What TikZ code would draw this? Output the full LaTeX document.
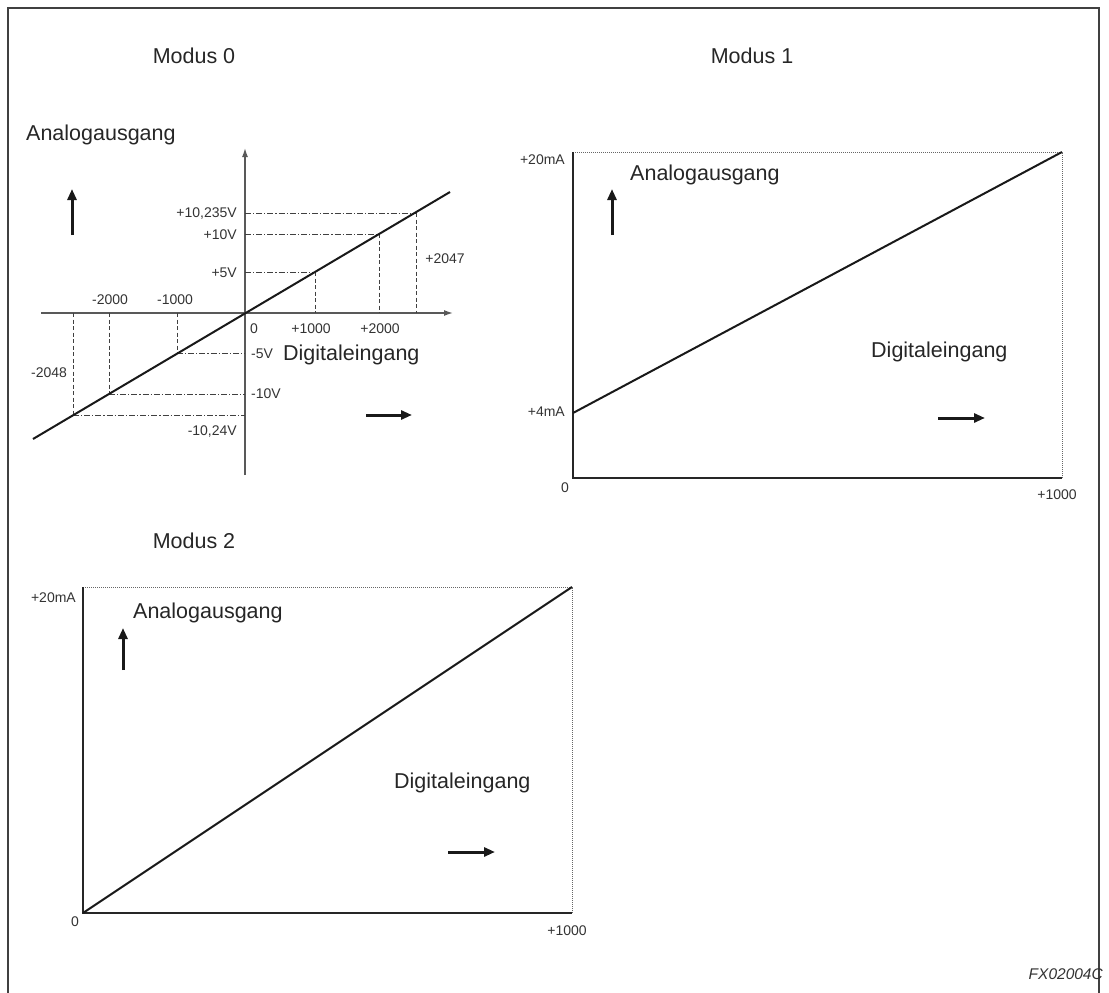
\documentclass[tikz,border=0pt]{standalone}
\usepackage{fontspec}
\setmainfont{Liberation Sans}
\usetikzlibrary{arrows.meta}
\begin{document}
\begin{tikzpicture}[x=1pt,y=-1pt,
  lbl/.style={inner sep=0pt, text=black!80, font=\fontsize{14}{16}\selectfont},
  big/.style={inner sep=0pt, text=black!85, font=\fontsize{21.5}{24}\selectfont},
  tag/.style={inner sep=0pt, text=black!80, font=\fontsize{15.5}{17}\selectfont\itshape},
  frame/.style={draw=black!75, line width=1.8pt},
  axisline/.style={draw=black!65, line width=1.4pt, -{Latex[length=9pt,width=6pt]}},
  curve/.style={draw=black!90, line width=2pt},
  dd/.style={draw=black!75, line width=0.8pt, dash pattern=on 6pt off 2pt on 1.2pt off 2pt},
  ds/.style={draw=black!75, line width=0.8pt, dash pattern=on 4pt off 2.5pt},
  boxline/.style={draw=black!85, line width=1.5pt},
  dotline/.style={draw=black!60, line width=0.6pt, dash pattern=on 1pt off 1pt},
  bigarrow/.style={draw=black!90, line width=3pt, -{Triangle[length=11pt,width=9pt]}}
]
\useasboundingbox (0,0) rectangle (1109,993);

% outer frame
\coordinate (f1) at (8,993);
\coordinate (f2) at (8,8);
\coordinate (f3) at (1099,8);
\coordinate (f4) at (1099,993);
\draw[frame] (f1) -- (f2) -- (f3) -- (f4);

% titles
\node[big, anchor=base] (m0) at (194,63) {Modus 0};
\node[big, anchor=base] (m1) at (752,63) {Modus 1};
\node[big, anchor=base] (m2) at (194,548) {Modus 2};

%%%%%%%%%%%%%%%% Modus 0
\coordinate (O) at (245,313);
\coordinate (xl) at (41,313);
\coordinate (xr) at (453,313);
\coordinate (yb) at (245,475);
\coordinate (yt) at (245,148);
\draw[axisline] (xl) -- (xr);
\draw[axisline] (yb) -- (yt);

% guide points on the characteristic
\coordinate (pA) at (416,213);
\coordinate (pB) at (379,234);
\coordinate (pC) at (315,272);
\coordinate (pD) at (177,353);
\coordinate (pE) at (109,394);
\coordinate (pF) at (73,415);
\draw[dd] (245,213) -- (pA); \draw[ds] (pA) -- (416,313);
\draw[dd] (245,234) -- (pB); \draw[ds] (pB) -- (379,313);
\draw[dd] (245,272) -- (pC); \draw[ds] (pC) -- (315,313);
\draw[ds] (177,313) -- (pD); \draw[dd] (pD) -- (245,353);
\draw[ds] (109,313) -- (pE); \draw[dd] (pE) -- (245,394);
\draw[ds] (73,313) -- (pF); \draw[dd] (pF) -- (245,415);

\coordinate (c0a) at (33,439);
\coordinate (c0b) at (450,192);
\draw[curve] (c0a) -- (c0b);

\node[lbl, anchor=base east] (l1) at (237,217) {+10,235V};
\node[lbl, anchor=base east] (l2) at (237,239) {+10V};
\node[lbl, anchor=base east] (l3) at (237,277) {+5V};
\node[lbl, anchor=base] (l4) at (110,304) {-2000};
\node[lbl, anchor=base] (l5) at (175,304) {-1000};
\node[lbl, anchor=base] (l6) at (254,333) {0};
\node[lbl, anchor=base] (l7) at (311,333) {+1000};
\node[lbl, anchor=base] (l8) at (380,333) {+2000};
\node[lbl, anchor=base] (l9) at (445,263) {+2047};
\node[lbl, anchor=base west] (l10) at (251,358) {-5V};
\node[lbl, anchor=base] (l11) at (49,377) {-2048};
\node[lbl, anchor=base west] (l12) at (251,398) {-10V};
\node[lbl, anchor=base east] (l13) at (237,435) {-10,24V};
\node[big, anchor=base west] (dig0) at (283,360) {Digitaleingang};
\node[big, anchor=base west] (ana0) at (26,140) {Analogausgang};

\coordinate (ua0) at (72,235);
\coordinate (ub0) at (72,189);
\draw[bigarrow] (ua0) -- (ub0);
\coordinate (ra0) at (366,415);
\coordinate (rb0) at (412,415);
\draw[bigarrow] (ra0) -- (rb0);

%%%%%%%%%%%%%%%% Modus 1
\coordinate (b1tl) at (573,152);
\coordinate (b1bl) at (573,478);
\coordinate (b1br) at (1062,478);
\coordinate (b1tr) at (1062,152);
\draw[dotline] (b1tl) -- (b1tr) -- (b1br);
\draw[boxline] (b1tl) -- (b1bl) -- (b1br);
\coordinate (c1a) at (573,413);
\draw[curve] (c1a) -- (b1tr);

\node[lbl, anchor=base east] (m1a) at (565,164) {+20mA};
\node[lbl, anchor=base east] (m1b) at (565,416) {+4mA};
\node[lbl, anchor=base] (m1c) at (565,492) {0};
\node[lbl, anchor=base] (m1d) at (1057,499) {+1000};
\node[big, anchor=base west] (ana1) at (630,180) {Analogausgang};
\node[big, anchor=base west] (dig1) at (871,357) {Digitaleingang};

\coordinate (ua1) at (612,235);
\coordinate (ub1) at (612,189);
\draw[bigarrow] (ua1) -- (ub1);
\coordinate (ra1) at (938,418);
\coordinate (rb1) at (985,418);
\draw[bigarrow] (ra1) -- (rb1);

%%%%%%%%%%%%%%%% Modus 2
\coordinate (b2tl) at (83,587);
\coordinate (b2bl) at (83,913);
\coordinate (b2br) at (572,913);
\coordinate (b2tr) at (572,587);
\draw[dotline] (b2tl) -- (b2tr) -- (b2br);
\draw[boxline] (b2tl) -- (b2bl) -- (b2br);
\draw[curve] (b2bl) -- (b2tr);

\node[lbl, anchor=base east] (m2a) at (76,602) {+20mA};
\node[lbl, anchor=base] (m2c) at (75,926) {0};
\node[lbl, anchor=base] (m2d) at (567,935) {+1000};
\node[big, anchor=base west] (ana2) at (133,618) {Analogausgang};
\node[big, anchor=base west] (dig2) at (394,788) {Digitaleingang};

\coordinate (ua2) at (123,670);
\coordinate (ub2) at (123,628);
\draw[bigarrow] (ua2) -- (ub2);
\coordinate (ra2) at (448,852);
\coordinate (rb2) at (495,852);
\draw[bigarrow] (ra2) -- (rb2);

% figure tag
\node[tag, anchor=base east] (fx) at (1103,979) {FX02004C};
\end{tikzpicture}
\end{document}
